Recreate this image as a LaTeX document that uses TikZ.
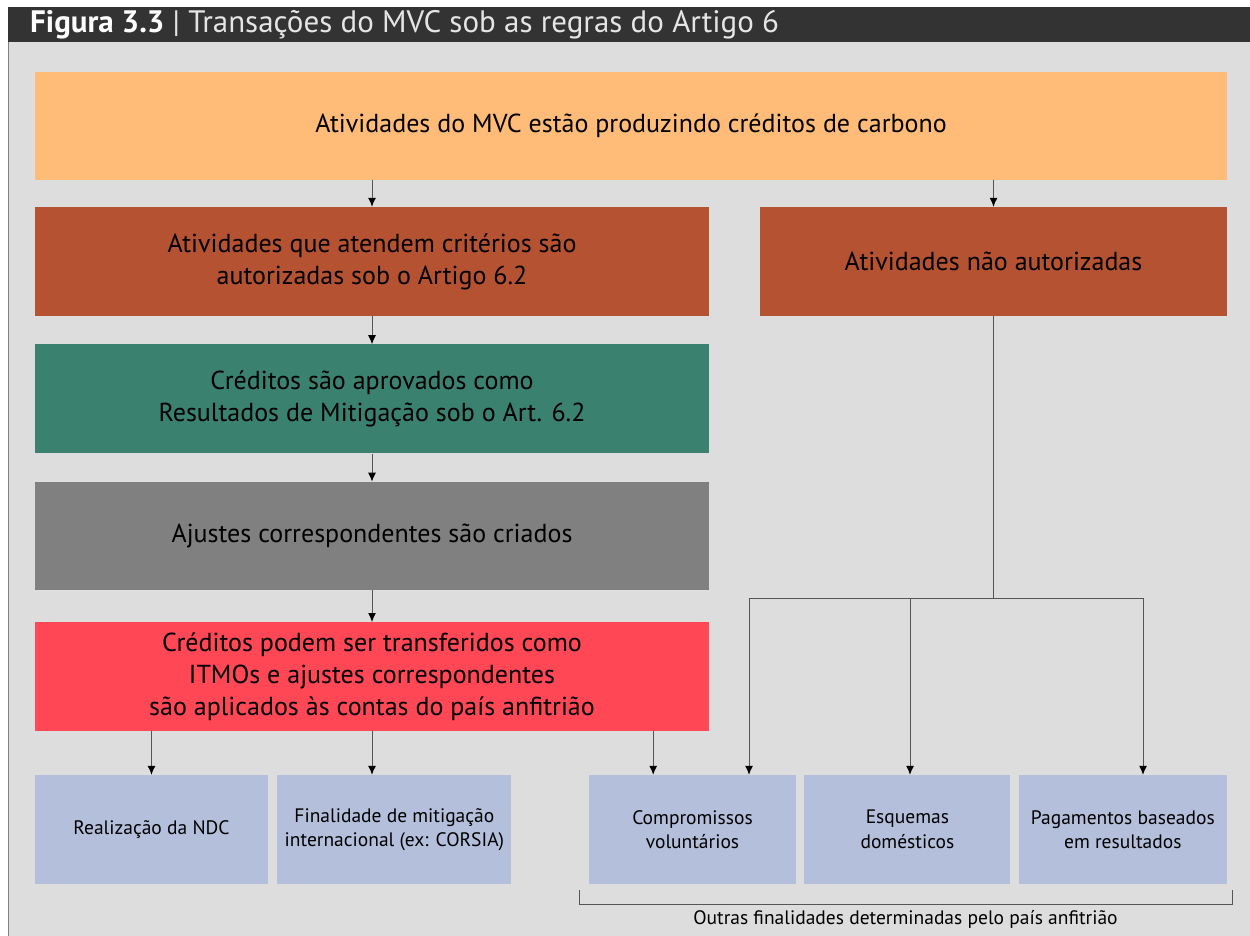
\documentclass[tikz,border=0pt]{standalone}
\usepackage{fontspec}
\setmainfont{PT Sans}
\usetikzlibrary{positioning}
\usetikzlibrary{arrows.meta}
\usetikzlibrary{calc}
\definecolor{hdrgray}{HTML}{333333}
\definecolor{bggray}{HTML}{DDDDDD}
\definecolor{laranja}{HTML}{FFBB78}
\definecolor{ferrugem}{HTML}{B55232}
\definecolor{verde}{HTML}{3A826F}
\definecolor{cinza}{HTML}{808080}
\definecolor{vermelho}{HTML}{FF4756}
\definecolor{azulclaro}{HTML}{B4BFDC}
\definecolor{linha}{HTML}{555555}
\tikzset{
    bigbox/.style={rectangle,inner sep=0pt,align=center,text=black,font=\fontsize{26}{32}\selectfont},
    smallbox/.style={rectangle,inner sep=0pt,align=center,fill=azulclaro,text=black,
        minimum width=#1,minimum height=109pt,font=\fontsize{19.5}{24.5}\selectfont},
    conn/.style={draw=linha,line width=1pt},
    seta/.style={conn,-{Latex[length=9pt,width=8pt,color=black]}},
}
\begin{document}
\begin{tikzpicture}[x=1pt,y=-1pt]
    \useasboundingbox (0,0) rectangle (1250,936);
    % moldura e cabecalho
    \fill[white] (0,0) rectangle (1250,936);
    \fill[bggray] (8,42) rectangle (1250,936);
    \draw[gray,line width=1pt] (8.5,42) -- (8.5,936);
    \fill[hdrgray] (8,7) rectangle (1250,42);
    \node[anchor=west,text=white,inner sep=0pt,font=\fontsize{31}{34}\selectfont] (titulo) at (30,25)
        {\textbf{Figura 3.3} {\color{black!10}| Transações do MVC sob as regras do Artigo 6}};

    % caixas principais
    \node[bigbox,fill=laranja,minimum width=1192pt,minimum height=108pt] (orig) at (631,126)
        {Atividades do MVC estão produzindo créditos de carbono};
    \node[bigbox,fill=ferrugem,minimum width=674pt,minimum height=109pt] (autor) at (372,261.5)
        {Atividades que atendem critérios são\\autorizadas sob o Artigo 6.2};
    \node[bigbox,fill=ferrugem,minimum width=467pt,minimum height=109pt] (naoaut) at (993.5,261.5)
        {Atividades não autorizadas};
    \node[bigbox,fill=verde,minimum width=674pt,minimum height=109pt,below=28pt of autor] (aprov)
        {Créditos são aprovados como\\Resultados de Mitigação sob o Art. 6.2};
    \node[bigbox,fill=cinza,minimum width=674pt,minimum height=108pt,below=28pt of aprov] (ajust)
        {Ajustes correspondentes são criados};
    \node[bigbox,fill=vermelho,minimum width=674pt,minimum height=109pt,below=32pt of ajust] (transf)
        {Créditos podem ser transferidos como\\ITMOs e ajustes correspondentes\\são aplicados às contas do país anfitrião};

    % finalidades
    \node[smallbox=233pt] (ndc) at (151.5,829.5) {Realização da NDC};
    \node[smallbox=234pt,right=9pt of ndc] (corsia) {Finalidade de mitigação\\internacional (ex: CORSIA)};
    \node[smallbox=207pt] (volunt) at (692.5,829.5) {Compromissos\\voluntários};
    \node[smallbox=206pt,right=8pt of volunt] (domest) {Esquemas\\domésticos};
    \node[smallbox=208pt,right=8pt of domest] (pagam) {Pagamentos baseados\\em resultados};

    % setas
    \draw[seta] (orig.south -| autor.north) -- (autor.north);
    \draw[seta] (orig.south -| naoaut.north) -- (naoaut.north);
    \draw[seta] (autor) -- (aprov);
    \draw[seta] (aprov) -- (ajust);
    \draw[seta] (ajust) -- (transf);
    \draw[seta] (transf.south -| ndc.north) -- (ndc.north);
    \draw[seta] (transf.south) -- (transf.south |- corsia.north);
    \coordinate (tv) at ($(transf.south east)+(-56,0)$);
    \draw[seta] (tv) -- (tv |- volunt.north);

    % ramos das atividades nao autorizadas
    \coordinate (split) at (993.5,598);
    \coordinate (ra) at (749,598);
    \coordinate (rb) at (910,598);
    \coordinate (rc) at (1143,598);
    \draw[conn] (naoaut.south) -- (split);
    \draw[conn] (ra) -- (rc);
    \draw[seta] (ra) -- (ra |- volunt.north);
    \draw[seta] (rb) -- (rb |- domest.north);
    \draw[seta] (rc) -- (rc |- pagam.north);

    % chave inferior
    \coordinate (chaveA) at (579,890);
    \coordinate (chaveB) at (1232,890);
    \draw[conn] (chaveA) -- ++(0,14) -| (chaveB);
    \node[inner sep=0pt,text=black,font=\fontsize{19.5}{22}\selectfont] (outras) at (905.5,919)
        {Outras finalidades determinadas pelo país anfitrião};
\end{tikzpicture}
\end{document}
